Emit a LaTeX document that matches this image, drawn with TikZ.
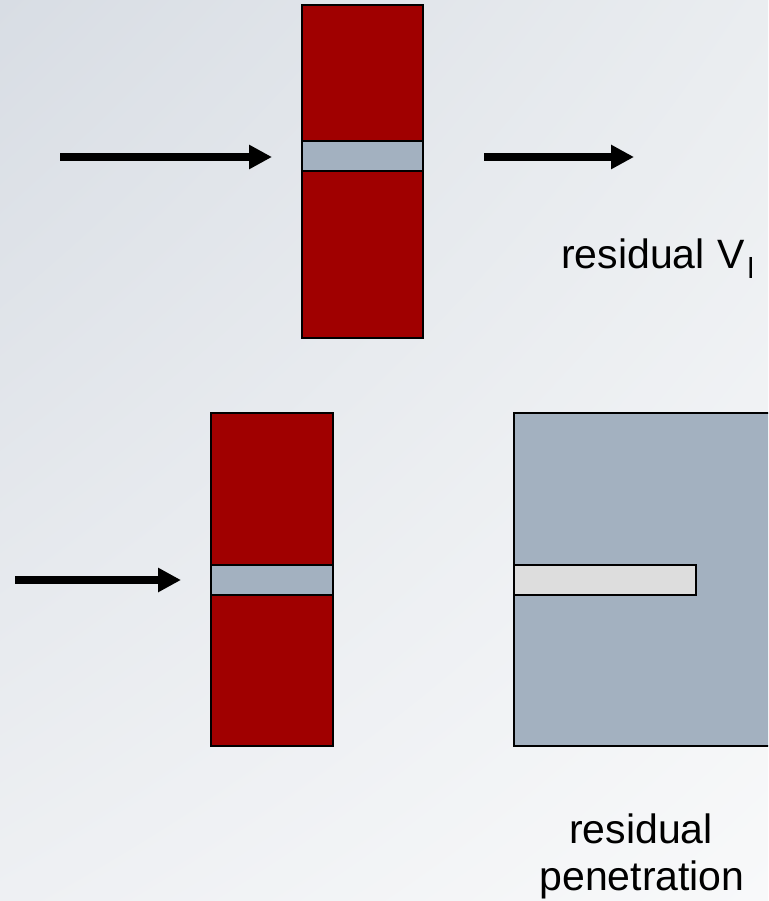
\documentclass[tikz,border=0pt]{standalone}
\usepackage{fontspec}
\setmainfont{Liberation Sans}
\usetikzlibrary{arrows.meta,shadings}
\definecolor{bgUL}{RGB}{216,221,228}
\definecolor{bgUR}{RGB}{234,237,240}
\definecolor{bgLL}{RGB}{238,240,243}
\definecolor{bgLR}{RGB}{248,249,250}
\definecolor{darkred}{RGB}{160,0,0}
\definecolor{steel}{RGB}{163,177,192}
\definecolor{lightstrip}{RGB}{221,221,221}
\tikzset{
  barbox/.style={fill=darkred, draw=black, line width=2pt},
  stripbox/.style={fill=steel, draw=black, line width=2pt},
  holebox/.style={fill=lightstrip, draw=black, line width=2.5pt},
  blockbox/.style={fill=steel, draw=black, line width=2pt},
  arr/.style={draw=black, line width=8pt, -{Triangle[length=23pt,width=23pt]}},
  lbl/.style={inner sep=0pt, font=\fontsize{41}{47}\selectfont}
}
\begin{document}
\begin{tikzpicture}[x=1pt,y=-1pt]
\useasboundingbox (0,0) rectangle (768,901);
\clip (0,0) rectangle (768,901);
\shade[upper left=bgUL, upper right=bgUR, lower left=bgLL, lower right=bgLR] (0,0) rectangle (768,901);
% top target plate
\draw[barbox] (302,5) rectangle (423,338);
\draw[stripbox] (302,141) rectangle (423,171);
% top arrows
\coordinate (a1s) at (60,157);
\coordinate (a1e) at (272,157);
\coordinate (a2s) at (484,157);
\coordinate (a2e) at (634,157);
\draw[arr] (a1s) -- (a1e);
\draw[arr] (a2s) -- (a2e);
\node[lbl, anchor=base west] (lv) at (561,268) {residual \kern1pt V\kern3pt\raisebox{-10pt}{\fontsize{29}{29}\selectfont l}};
% bottom target plate
\draw[barbox] (211,413) rectangle (333,746);
\draw[stripbox] (211,565) rectangle (333,595);
\coordinate (a3s) at (15,580);
\coordinate (a3e) at (181,580);
\draw[arr] (a3s) -- (a3e);
% block with residual penetration
\draw[blockbox] (514,413) rectangle (800,746);
\draw[holebox] (514,565) rectangle (696,595);
\node[lbl, anchor=base] (lr) at (641,843) {residual};
\node[lbl, anchor=base] (lp) at (642,890) {penetration};
\end{tikzpicture}
\end{document}
